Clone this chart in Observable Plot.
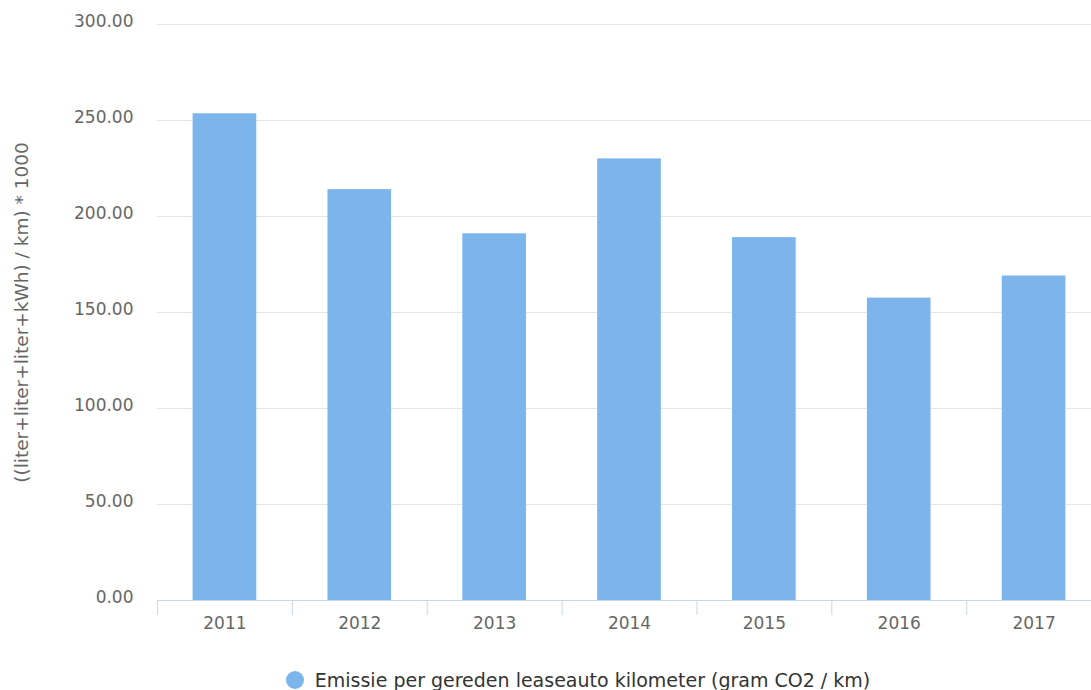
<!DOCTYPE html>
<html>
<head>
<meta charset="utf-8">
<script src="https://cdn.jsdelivr.net/npm/d3@7"></script>
<script src="https://cdn.jsdelivr.net/npm/@observablehq/plot@0.6"></script>
<style>
  body { margin: 0; background: #fff; font-family: "DejaVu Sans", sans-serif; overflow: hidden; width: 1091px; }
  #chart { width: 1091px; height: 650px; overflow: hidden; }
  #chart svg { max-width: none !important; }
  #legend { display: flex; align-items: center; justify-content: center; margin-top: 19px; padding-left: 65px; width: 1026px; font-size: 19px; color: #333; }
  #legend .dot { width: 18px; height: 18px; border-radius: 50%; background: #7cb5ec; margin-right: 11px; }
</style>
</head>
<body>
<div id="chart"></div>
<div id="legend"><span class="dot"></span><span>Emissie per gereden leaseauto kilometer (gram CO2 / km)</span></div>
<script>
const years = [2011, 2012, 2013, 2014, 2015, 2016, 2017];
const values = [253.5, 214, 191, 230, 189, 157.5, 169];
const yTicks = [0, 50, 100, 150, 200, 250, 300];
const seriesName = "Emissie per gereden leaseauto kilometer (gram CO2 / km)";
const yLabel = "((liter+liter+liter+kWh) / km) * 1000";

const data = years.map((y, i) => ({year: y, value: values[i]}));
const bounds = years.map(y => y - 0.5).concat([years[years.length - 1] + 0.5]);
const halfBar = 0.236;

const chart = Plot.plot({
  width: 1101,
  height: 650,
  marginLeft: 157,
  marginRight: 0,
  marginTop: 24,
  marginBottom: 50,
  style: {fontFamily: "DejaVu Sans, sans-serif", fontSize: "17px", color: "#666", overflow: "visible", maxWidth: "none"},
  x: {type: "linear", domain: [years[0] - 0.5, years[years.length - 1] + 0.5]},
  y: {domain: [0, 300]},
  marks: [
    Plot.gridY(yTicks, {stroke: "#e6e6e6", strokeOpacity: 1}),
    Plot.rectY(data, {x1: d => d.year - halfBar, x2: d => d.year + halfBar, y: "value", fill: "#7cb5ec"}),
    Plot.ruleY([0], {stroke: "#ccd6eb", strokeWidth: 1.2}),
    Plot.axisX({ticks: bounds, tickSize: 15, tickFormat: () => "", stroke: "#ccd6eb", strokeOpacity: 1, label: null}),
    Plot.axisX({ticks: years, tickSize: 0, tickPadding: 16, tickFormat: d => String(d), fill: "#666", fontSize: 17, label: null}),
    Plot.axisY({ticks: yTicks, tickSize: 0, tickPadding: 24, dy: -3, tickFormat: d => d.toFixed(2), fill: "#666", fontSize: 17, label: null}),
    Plot.axisY({ticks: [], tickSize: 0, label: yLabel, labelAnchor: "center", labelArrow: "none", labelOffset: 143, fontSize: 18.5, fill: "#666"})
  ]
});
document.getElementById("chart").appendChild(chart);
</script>
</body>
</html>
